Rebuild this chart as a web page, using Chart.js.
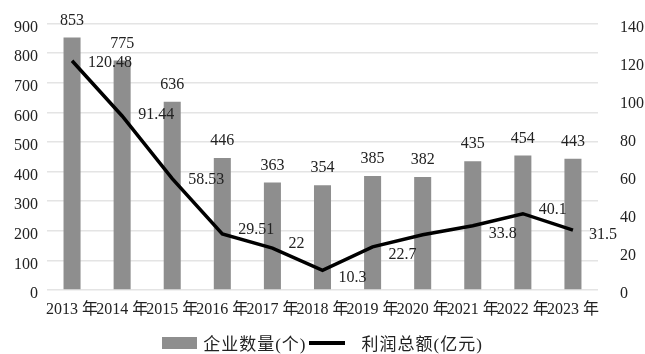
<!DOCTYPE html>
<html>
<head>
<meta charset="utf-8">
<script src="https://cdn.jsdelivr.net/npm/chart.js@4"></script>
<style>
  body { margin: 0; background: #fff; }
  #wrap { position: relative; width: 645px; height: 354px; }
  #legend { position: absolute; left: 0; top: 330px; width: 645px; display: flex; justify-content: center; align-items: center;
    font: 17px "Liberation Serif", "Noto Sans CJK SC", serif; letter-spacing: 1px; color: #222; }
  .sw { display: inline-block; margin-right: 6px; }
  .item { display: flex; align-items: center; margin: 0 1px; }
</style>
</head>
<body>
<div id="wrap">
  <canvas id="chart"></canvas>
  <div id="legend">
    <span class="item"><span class="sw" style="width:35px;height:12px;background:#8e8e8e"></span>企业数量(个)</span>
    <span class="item"><span class="sw" style="width:36px;height:4px;background:#000;margin-right:17px"></span>利润总额(亿元)</span>
  </div>
</div>
<script>
const years = ['2013 年', '2014 年', '2015 年', '2016 年', '2017 年', '2018 年', '2019 年', '2020 年', '2021 年', '2022 年', '2023 年'];
const companies = [853, 775, 636, 446, 363, 354, 385, 382, 435, 454, 443];
const profits = [120.48, 91.44, 58.53, 29.51, 22, 10.3, 22.7, 29, 33.8, 40.1, 31.5];
const profitLabels = ['120.48', '91.44', '58.53', '29.51', '22', '10.3', '22.7', null, '33.8', '40.1', '31.5'];
const labelDy = [2, -1, 1, -4, -4, 7, 8, 0, 8, -4, 5];

const font = '"Liberation Serif", "Noto Sans CJK SC", serif';

const valueLabels = {
  id: 'valueLabels',
  afterDatasetsDraw(chart) {
    const ctx = chart.ctx;
    ctx.save();
    ctx.fillStyle = '#222';
    ctx.font = '16px ' + font;
    ctx.textBaseline = 'middle';
    const bars = chart.getDatasetMeta(1).data;
    ctx.textAlign = 'center';
    bars.forEach((b, i) => ctx.fillText(companies[i], b.x, b.y - 17));
    const pts = chart.getDatasetMeta(0).data;
    ctx.textAlign = 'left';
    pts.forEach((p, i) => {
      if (profitLabels[i]) ctx.fillText(profitLabels[i], p.x + 16, p.y + labelDy[i]);
    });
    ctx.restore();
  }
};

new Chart(document.getElementById('chart'), {
  type: 'bar',
  data: {
    labels: years,
    datasets: [{
      type: 'line',
      label: '利润总额(亿元)',
      data: profits,
      yAxisID: 'y1',
      borderColor: '#000',
      borderWidth: 3.5,
      pointRadius: 0,
      tension: 0,
      order: 0
    }, {
      label: '企业数量(个)',
      data: companies,
      yAxisID: 'y',
      backgroundColor: '#8e8e8e',
      barPercentage: 0.68,
      categoryPercentage: 0.5,
      order: 1
    }]
  },
  options: {
    responsive: true,
    maintainAspectRatio: false,
    animation: false,
    layout: { padding: { top: 15, left: 13, right: 0, bottom: 34 } },
    plugins: { legend: { display: false }, tooltip: { enabled: false } },
    scales: {
      x: {
        afterFit(s) { s.height = 30; },
        grid: { display: false },
        border: { display: false },
        ticks: { color: '#222', font: { family: font, size: 16 }, maxRotation: 0, minRotation: 0, autoSkip: false, padding: 2 }
      },
      y: {
        position: 'left',
        min: 0, max: 900,
        afterFit(s) { s.width = 34; },
        grid: { color: '#e4e4e4', lineWidth: 1.5, drawTicks: false },
        border: { display: false },
        ticks: { stepSize: 100, color: '#222', font: { family: font, size: 16 }, padding: 9, labelOffset: 4 }
      },
      y1: {
        position: 'right',
        min: 0, max: 140,
        afterFit(s) { s.width = 47; },
        grid: { display: false },
        border: { display: false },
        ticks: { stepSize: 20, color: '#222', font: { family: font, size: 16 }, padding: 14, labelOffset: 4 }
      }
    }
  },
  plugins: [valueLabels]
});
</script>
</body>
</html>
